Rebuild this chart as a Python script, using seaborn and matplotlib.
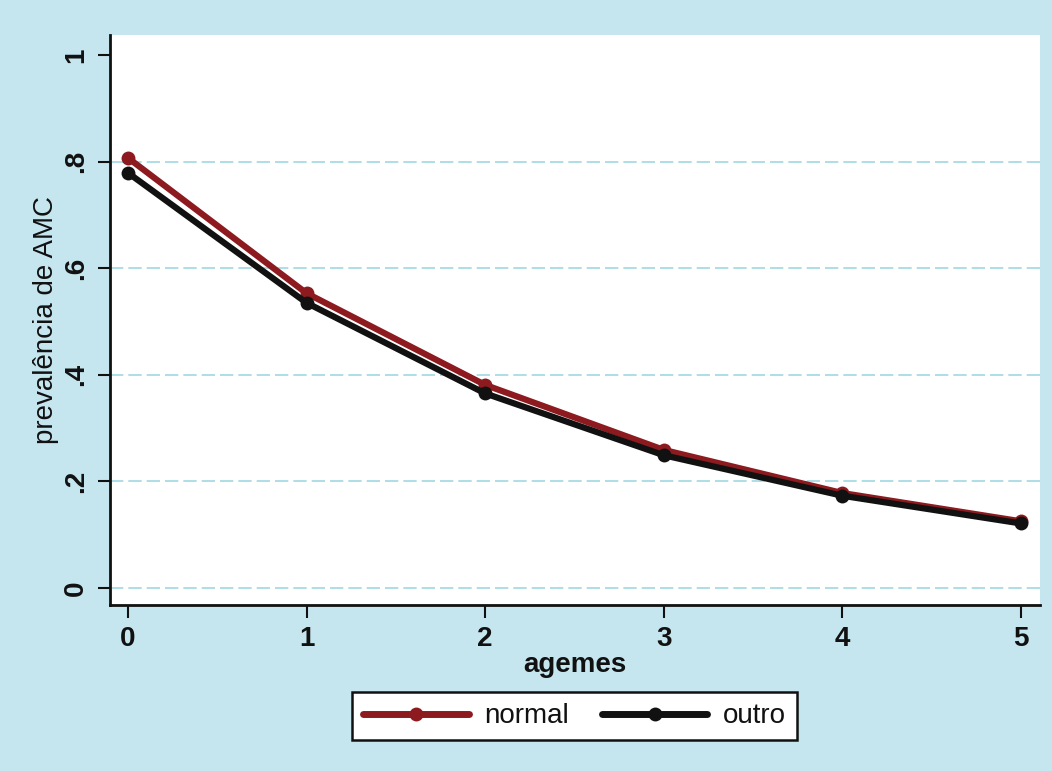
import matplotlib
matplotlib.use("Agg")
import matplotlib.pyplot as plt
import seaborn as sns
import pandas as pd
from matplotlib.lines import Line2D

agemes = [0, 1, 2, 3, 4, 5]
normal = [0.807, 0.553, 0.381, 0.259, 0.178, 0.125]
outro = [0.779, 0.535, 0.365, 0.249, 0.173, 0.121]
groups = ["normal", "outro"]
yticks = [0, 0.2, 0.4, 0.6, 0.8, 1.0]
ytick_labels = ["0", ".2", ".4", ".6", ".8", "1"]

df = pd.DataFrame({
    "agemes": agemes * 2,
    "prev": normal + outro,
    "grupo": [groups[0]] * len(agemes) + [groups[1]] * len(agemes),
})

sns.set_theme(style="white")
plt.rcParams["font.family"] = ["Liberation Sans", "DejaVu Sans"]
plt.rcParams["text.color"] = "#111111"
plt.rcParams["axes.labelcolor"] = "#111111"
plt.rcParams["xtick.color"] = "#111111"
plt.rcParams["ytick.color"] = "#111111"

bg = "#c6e6ef"
fig = plt.figure(figsize=(10.52, 7.71), dpi=100, facecolor=bg)
ax = fig.add_axes([0.1046, 0.2153, 0.884, 0.7393])
ax.set_facecolor("white")

for y in yticks[:-1]:
    ax.axhline(y, color="#9fd8e3", lw=1.2, ls=(0, (8, 3)), zorder=0)

palette = {"normal": "#8c1a1f", "outro": "#111111"}
sns.lineplot(data=df, x="agemes", y="prev", hue="grupo", palette=palette,
             marker="o", markersize=10, linewidth=4.5, markeredgewidth=0,
             ax=ax, legend=False)

ax.set_xlim(-0.1, 5.106)
ax.set_ylim(-0.032, 1.0375)
ax.set_xticks(agemes)
ax.set_xticklabels([str(a) for a in agemes], fontsize=20, fontweight="bold")
ax.set_yticks(yticks)
ax.set_yticklabels(ytick_labels, fontsize=20, fontweight="bold", rotation=90, va="center")
ax.tick_params(axis="both", length=9, width=1.5, direction="out",
               left=True, bottom=True, pad=6)
for s in ["top", "right"]:
    ax.spines[s].set_visible(False)
for s in ["left", "bottom"]:
    ax.spines[s].set_color("#111111")
    ax.spines[s].set_linewidth(2)

ax.set_xlabel("agemes", fontsize=20, fontweight="bold", labelpad=0)
ax.set_ylabel("prevalência de AMC", fontsize=20, labelpad=3)

handles = [Line2D([0], [0], color=palette[g], lw=5, marker="o", markersize=10,
                  markeredgewidth=0) for g in groups]
leg = fig.legend(handles, groups, loc="center", bbox_to_anchor=(0.546, 0.071),
                 ncol=2, fontsize=20, frameon=True, fancybox=False, framealpha=1,
                 handlelength=3.8, columnspacing=1.2, handletextpad=0.55,
                 borderpad=0.4, borderaxespad=0.3)
leg.get_frame().set_edgecolor("#111111")
leg.get_frame().set_linewidth(1.8)
leg.get_frame().set_facecolor("white")

fig.savefig("out.png", dpi=100, facecolor=bg)
